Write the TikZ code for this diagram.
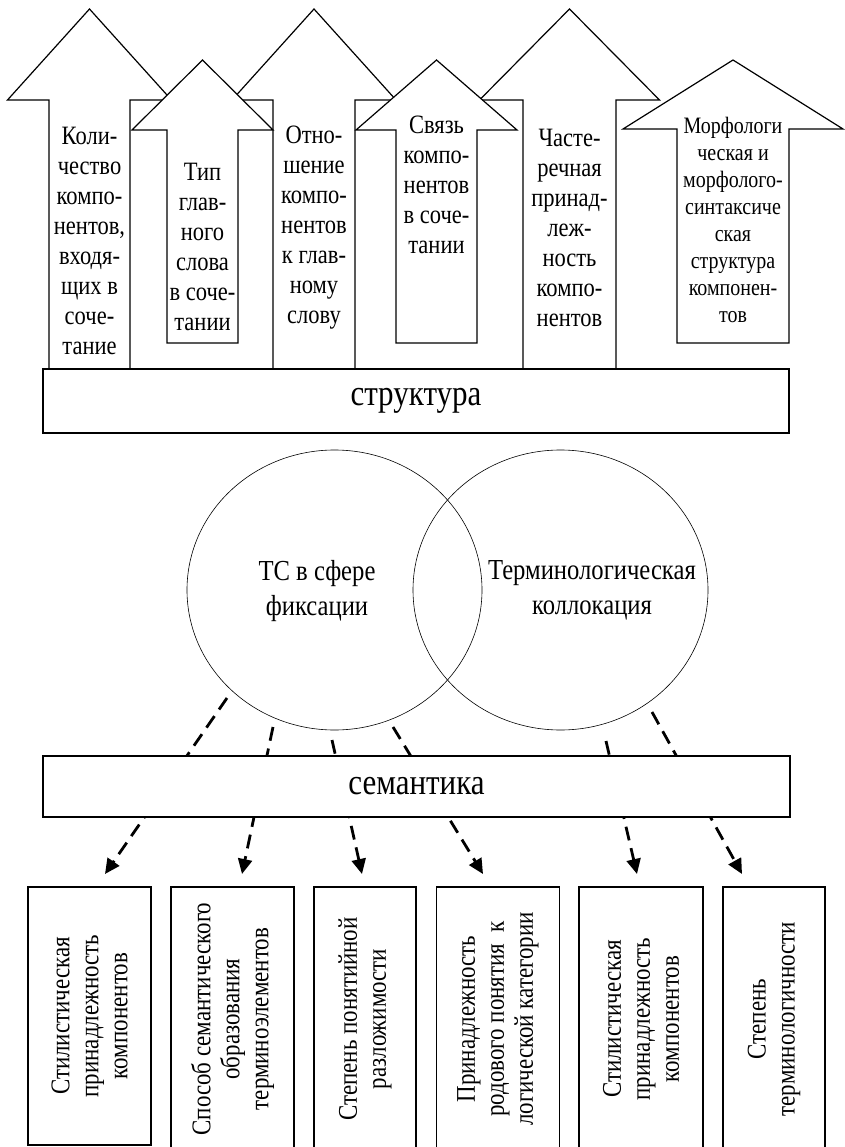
\documentclass[tikz,border=0pt]{standalone}
\usepackage{fontspec}
\setmainfont{Liberation Serif}[FakeStretch=0.85]
\usetikzlibrary{arrows.meta,shapes.geometric}
\tikzset{
  arrowshape/.style={draw, fill=white, line width=1.2pt, line join=miter},
  arrtext/.style={align=center, inner sep=0pt, font=\fontsize{26.5}{30}\selectfont},
  smalltext/.style={align=center, inner sep=0pt, font=\fontsize{23.5}{27}\selectfont},
  bigbox/.style={draw, fill=white, line width=1.4pt, inner sep=0pt, font=\fontsize{36.5}{40}\selectfont},
  venn/.style={draw, ellipse, line width=0.6pt, inner sep=0pt, minimum width=295pt, minimum height=280pt},
  venntext/.style={align=center, inner sep=0pt, font=\fontsize{29}{35}\selectfont},
  featbox/.style={draw, fill=white, line width=1.8pt, rotate=90, align=center, inner sep=0pt,
    minimum height=123pt, font=\fontsize{27}{29}\selectfont},
  dconn/.style={line width=2.8pt, dash pattern=on 14pt off 8pt,
    -{Triangle[length=15pt,width=14pt]}}
}
\newcommand{\uparrowshape}[6]{% cx, apex y, wing y, bottom y, shaft half width, head half width
  \draw[arrowshape] ({#1-#5},#4) -- ({#1-#5},#3) -- ({#1-#6},#3) -- (#1,#2)
    -- ({#1+#6},#3) -- ({#1+#5},#3) -- ({#1+#5},#4) -- cycle;}
\begin{document}
\begin{tikzpicture}[x=1pt,y=-1pt]
\useasboundingbox (0,0) rectangle (844,1147);
\fill[white] (0,0) rectangle (844,1147);

% tall arrows
\uparrowshape{89.5}{9}{100}{369}{40.5}{82}
\uparrowshape{314}{9}{100}{369}{41}{82}
\uparrowshape{569.5}{9}{100}{369}{46.5}{90}
% short arrows
\uparrowshape{202.5}{60}{130}{343}{35.5}{70.5}
\uparrowshape{436.5}{60}{130}{343}{40.5}{80.5}
\uparrowshape{733}{60}{129}{343}{56}{110}

% arrow texts
\node[arrtext] (a1) at (89.5,241) {Коли-\\чество\\компо-\\нентов,\\входя-\\щих в\\соче-\\тание};
\node[arrtext] (a2) at (202.5,247) {Тип\\глав-\\ного\\слова\\в соче-\\тании};
\node[arrtext] (a3) at (314,228) {Отно-\\шение\\компо-\\нентов\\к глав-\\ному\\слову};
\node[arrtext] (a4) at (436.5,185) {Связь\\компо-\\нентов\\в соче-\\тании};
\node[arrtext] (a5) at (569.5,228) {Часте-\\речная\\принад-\\леж-\\ность\\компо-\\нентов};
\node[smalltext] (a6) at (733,220) {Морфологи\\ческая и\\морфолого-\\синтаксиче\\ская\\структура\\компонен-\\тов};

% structure box
\node[bigbox, minimum width=746pt, minimum height=64pt] (struct) at (416,401) {структура};

% Venn circles
\node[venn] (c1) at (334.5,590) {};
\node[venn] (c2) at (560.5,590) {};
\node[venntext] (t1) at (317,591) {ТС в сфере\\фиксации};
\node[venntext] (t2) at (592,590) {Терминологическая\\коллокация};

% dashed connectors
\coordinate (s1) at (227,698);
\coordinate (s2) at (273,727);
\coordinate (s3) at (332,740);
\coordinate (s4) at (393,727);
\coordinate (s5) at (606,741);
\coordinate (s6) at (652,712);
\coordinate (e1) at (105,874);
\coordinate (e2) at (242,874);
\coordinate (e3) at (362,874);
\coordinate (e4) at (483,874);
\coordinate (e5) at (637,874);
\coordinate (e6) at (742,874);
\foreach \i in {1,...,6} { \draw[dconn] (s\i) -- (e\i); }

% semantics box
\node[bigbox, minimum width=747pt, minimum height=61pt] (sem) at (416.5,786.5) {семантика};

% feature boxes
\node[featbox, minimum width=258pt] (f1) at (89.5,1016) {Стилистическая\\принадлежность\\компонентов};
\node[featbox, minimum width=264pt] (f2) at (232.5,1019) {Способ семантического\\образования\\терминоэлементов};
\node[featbox, minimum width=264pt, minimum height=102pt] (f3) at (365,1019) {Степень понятийной\\разложимости};
\node[featbox, minimum width=264pt] (f4) at (498,1019) {Принадлежность\\родового понятия\ \ к\\логической категории};
\node[featbox, minimum width=264pt, minimum height=124pt] (f5) at (641,1019) {Стилистическая\\принадлежность\\компонентов};
\node[featbox, minimum width=264pt, minimum height=102pt] (f6) at (774,1019) {Степень\\терминологичности};
\end{tikzpicture}
\end{document}
